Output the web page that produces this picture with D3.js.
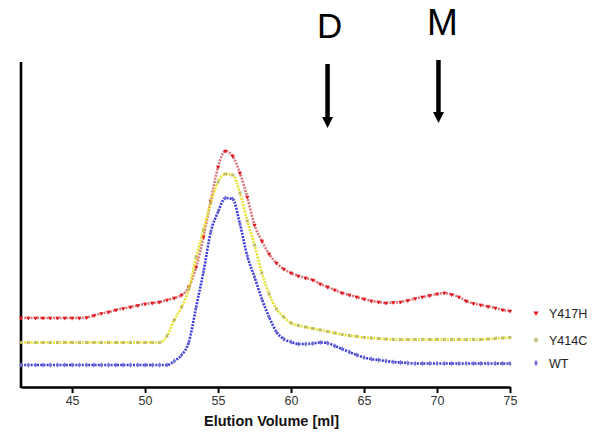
<!DOCTYPE html>
<html>
<head>
<meta charset="utf-8">
<script src="https://cdn.jsdelivr.net/npm/d3@7"></script>
<style>
  body { margin: 0; background: #fff; }
  svg { display: block; font-family: "Liberation Sans", Arial, sans-serif; }
</style>
</head>
<body>
<div id="container"></div>
<script>
// Elution volumes (ml), shared by all traces
var volumes = [41.5, 42, 42.5, 43, 43.5, 44, 44.5, 45, 45.5, 46, 46.5, 47, 47.5, 48, 48.5, 49, 49.5,
  50, 50.5, 51, 51.5, 52, 52.5, 53, 53.5, 54, 54.5, 55, 55.5, 56, 56.5, 57, 57.5, 58, 58.5, 59, 59.5,
  60, 60.5, 61, 61.5, 62, 62.5, 63, 63.5, 64, 64.5, 65, 65.5, 66, 66.5, 67, 67.5, 68, 68.5, 69, 69.5,
  70, 70.5, 71, 71.5, 72, 72.5, 73, 73.5, 74, 74.5, 75];

// Absorbance (arbitrary units, traces offset)
var y417h = [69, 69, 69, 69, 69, 69, 69, 69, 69, 69.5, 71.5, 73.5, 75, 77, 78.5, 80, 81.5,
  83, 84, 85, 87, 89, 92, 100, 120, 150, 186, 220, 236, 231, 214, 190, 162, 146, 133, 124, 118,
  114, 111, 109, 107, 103, 100, 97, 94, 92, 90, 88, 86, 85, 84, 84.5, 85, 86.5, 88.5, 90, 91.5,
  93, 94, 92.5, 90, 86, 83.5, 82, 80.5, 79, 77, 76];
var y414c = [44.5, 44.5, 44.5, 44.5, 44.5, 44.5, 44.5, 44.5, 44.5, 44.5, 44.5, 44.5, 44.5, 44.5, 44.5, 44.5, 44.5,
  44.5, 44.5, 44.5, 51, 67, 80, 98, 130, 157, 184, 205, 213, 212, 194, 166, 142, 114, 93, 78, 70,
  64, 61.5, 60, 58.5, 57, 55.5, 54, 52.5, 51.5, 50.5, 49.5, 49, 48.5, 48, 47.5, 47.5, 47.5, 47.5, 47.5, 47.5,
  47.5, 47.5, 47.5, 47.5, 47.5, 47.5, 47.5, 48, 48.5, 49, 49.5];
var wt = [22, 22, 22, 22, 22, 22, 22, 22, 22, 22, 22, 22, 22, 22, 22, 22, 22,
  22, 22, 22, 22, 26, 32, 45, 80, 115, 155, 175, 189, 188, 163, 131, 110, 88, 70, 55, 48,
  45, 43, 43, 43.5, 44.5, 44, 41, 38, 35, 32, 29.5, 28, 27, 26, 25, 24.5, 24, 23.5, 23.5, 23.5,
  23.5, 23.5, 23.5, 23.5, 23.5, 23.5, 23.5, 23.5, 23.5, 23.5, 23.5];

var seriesNames = ["Y417H", "Y414C", "WT"];
var xTicks = [45, 50, 55, 60, 65, 70, 75];

// Peak markers: dimer and monomer
var peakLabels = ["D", "M"];
var peakVolumes = [62.5, 70.1];

var series = [
  {name: seriesNames[0], values: y417h, line: "#d9777c", dot: "#e3161c", symbol: d3.symbolTriangle, rot: 180},
  {name: seriesNames[1], values: y414c, line: "#e4e22c", dot: "#bdb56a", symbol: d3.symbolCross, rot: 45},
  {name: seriesNames[2], values: wt, line: "#3b3be0", dot: "#7070d0", symbol: d3.symbolDiamond, rot: 0}
];

var W = 597, H = 435;
var svg = d3.select("div#container").append("svg")
  .attr("width", W).attr("height", H);

var x = d3.scaleLinear().domain([41.5, 75]).range([21, 510]);
var y = d3.scaleLinear().domain([0, 325]).range([387, 62]);

// axes
var xAxis = svg.append("g")
  .attr("transform", "translate(0,387)")
  .call(d3.axisBottom(x).tickValues(xTicks).tickSize(6).tickSizeOuter(0).tickPadding(3));
xAxis.select(".domain").attr("stroke", "#000").attr("stroke-width", 2.6);
xAxis.selectAll(".tick line").attr("stroke", "#000").attr("stroke-width", 2);
xAxis.selectAll(".tick text")
  .attr("fill", "#333").style("font-size", "12.5px")
  .style("font-family", "Liberation Sans, Arial, sans-serif");

svg.append("line")
  .attr("x1", 21).attr("x2", 21)
  .attr("y1", y(325)).attr("y2", 388)
  .attr("stroke", "#000").attr("stroke-width", 2.6);

svg.append("text")
  .attr("x", (x.range()[0] + x.range()[1]) / 2 + 6)
  .attr("y", 426)
  .attr("text-anchor", "middle")
  .style("font-size", "14.5px").style("font-weight", "bold")
  .attr("fill", "#111")
  .text("Elution Volume [ml]");

// traces
var line = d3.line()
  .x(function(d) { return x(d[0]); })
  .y(function(d) { return y(d[1]); })
  .curve(d3.curveMonotoneX);

series.forEach(function(s) {
  var pts = volumes.map(function(v, i) { return [v, s.values[i]]; });
  svg.append("path")
    .datum(pts)
    .attr("fill", "none")
    .attr("stroke", s.line)
    .attr("stroke-width", 2.6)
    .attr("stroke-dasharray", "2,1.2")
    .attr("d", line);
  svg.append("g").selectAll("path")
    .data(pts)
    .enter().append("path")
    .attr("transform", function(d) {
      return "translate(" + x(d[0]) + "," + y(d[1]) + ") rotate(" + s.rot + ")";
    })
    .attr("d", d3.symbol().type(s.symbol).size(8))
    .attr("fill", s.dot);
});

// legend
var legendY = [313, 340, 363];
var legend = svg.append("g");
series.forEach(function(s, i) {
  legend.append("path")
    .attr("transform", "translate(536," + legendY[i] + ") rotate(" + s.rot + ")")
    .attr("d", d3.symbol().type(s.symbol).size(12))
    .attr("fill", s.dot);
  legend.append("text")
    .attr("x", 549).attr("y", legendY[i] + 4.5)
    .style("font-size", "12.5px")
    .attr("fill", "#222")
    .text(s.name);
});

// D / M arrows
var arrowTop = [64, 60], arrowTip = [128, 123], labelY = [38, 35], labelSize = [35, 37], labelDx = [2, 4];
peakLabels.forEach(function(lab, i) {
  var px = x(peakVolumes[i]);
  svg.append("text")
    .attr("x", px + labelDx[i]).attr("y", labelY[i])
    .attr("text-anchor", "middle")
    .style("font-size", labelSize[i] + "px")
    .attr("fill", "#000")
    .text(lab);
  svg.append("line")
    .attr("x1", px).attr("x2", px)
    .attr("y1", arrowTop[i]).attr("y2", arrowTip[i] - 8)
    .attr("stroke", "#000").attr("stroke-width", 4.5);
  svg.append("path")
    .attr("d", "M" + (px - 5.5) + "," + (arrowTip[i] - 11) + "L" + (px + 5.5) + "," + (arrowTip[i] - 11) +
      "L" + px + "," + arrowTip[i] + "Z")
    .attr("fill", "#000");
});
</script>
</body>
</html>
